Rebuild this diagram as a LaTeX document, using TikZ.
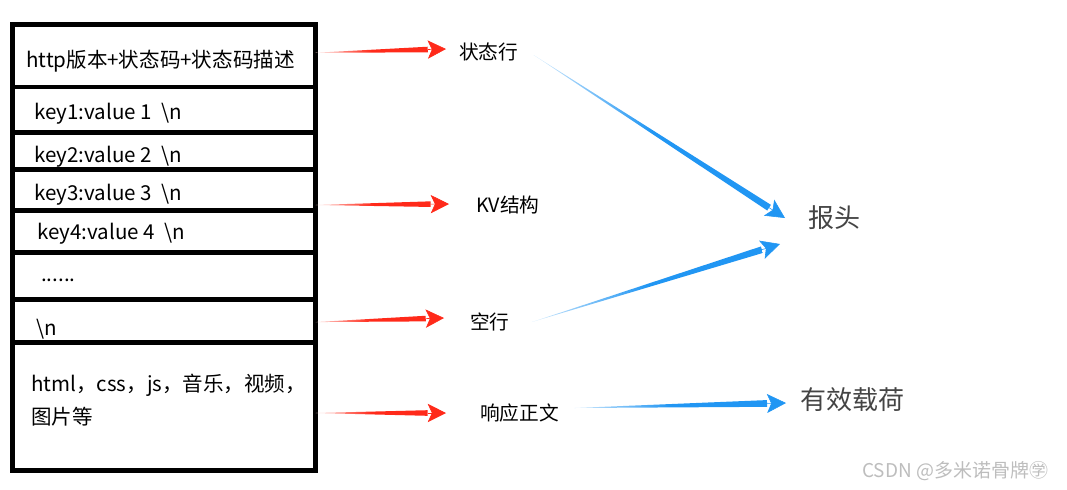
\documentclass[tikz,border=0pt]{standalone}
\usepackage{fontspec}
\setmainfont{Noto Sans CJK SC}
\usepackage{tikz}
\usetikzlibrary{positioning,arrows.meta,calc}
\definecolor{arrowred}{HTML}{FF2A1A}
\definecolor{arrowblue}{HTML}{2196F3}
\definecolor{labelgray}{HTML}{444444}
\definecolor{markgray}{HTML}{BDBDBD}
% tapered arrow: colour, half width at the head, head length, from, to
\newcommand{\flowarrow}[5]{%
  \coordinate (fa-s) at #4;
  \coordinate (fa-e) at #5;
  \coordinate (fa-b) at ($(fa-e)!#3!(fa-s)$);
  \shade[left color=#1!20, right color=#1, middle color=#1]
    (fa-s) -- ($(fa-b)!#2!90:(fa-s)$) -- ($(fa-b)!#2!-90:(fa-s)$) -- cycle;
  \draw[#1, line width=0.4pt, -{Stealth[length=#3, width=#3, inset=3pt]}] (fa-b) -- (fa-e);
}

\begin{document}
\begin{tikzpicture}[
    x=0.025cm, y=-0.025cm,
    node distance=0pt,
    row/.style={rectangle, draw, line width=3.5pt, minimum width=7.575cm,
                outer sep=0pt, inner sep=0pt},
    rowtext/.style={anchor=west, inner sep=0pt, font=\fontsize{14.6}{23.5}\selectfont},
    part/.style={anchor=west, inner sep=0pt, font=\fontsize{14}{16}\selectfont},
    whole/.style={anchor=west, inner sep=0pt, text=labelgray, font=\fontsize{18.5}{22}\selectfont}
]
\useasboundingbox (0,0) rectangle (1067,489);

% response rows
\node[row, minimum height=1.5625cm] (r1) at (164,55.75) {};
\node[row, minimum height=1.1375cm, below=of r1] (r2) {};
\node[row, minimum height=0.925cm, below=of r2] (r3) {};
\node[row, minimum height=1.025cm, below=of r3] (r4) {};
\node[row, minimum height=1.05cm, below=of r4] (r5) {};
\node[row, minimum height=1.1625cm, below=of r5] (r6) {};
\node[row, minimum height=1.075cm, below=of r6] (r7) {};
\node[row, minimum height=3.2cm, below=of r7] (r8) {};

\node[rowtext] (t1) at (26,61) {http版本+状态码+状态码描述};
\node[rowtext] (t2) at (34,114) {key1:value 1\ \ \textbackslash n};
\node[rowtext] (t3) at (34,156.5) {key2:value 2\ \ \textbackslash n};
\node[rowtext] (t4) at (34,195) {key3:value 3\ \ \textbackslash n};
\node[rowtext] (t5) at (37,233.5) {key4:value 4\ \ \textbackslash n};
\node[rowtext] (t6) at (41,280) {......};
\node[rowtext] (t7) at (36,329) {\textbackslash n};
\node[rowtext, align=left] (t8) at (31,400.5) {html，css，js，音乐，视频，\\图片等};

% parts
\node[part] (zt) at (459,52) {状态行};
\node[part] (kv) at (476,205) {KV结构};
\node[part] (kh) at (470,322) {空行};
\node[part] (xy) at (480,413) {响应正文};

\node[whole] (bt) at (808,218) {报头};
\node[whole] (yx) at (800,400) {有效载荷};

\node[anchor=west, inner sep=0pt, text=markgray, font=\fontsize{13.5}{15}\selectfont] (wm)
  at (862,471) {CSDN @多米诺骨牌㊫};

\flowarrow{arrowred}{2pt}{13pt}{($(r1.east)+(0,-3)$)}{($(zt.west)+(-13,-3)$)}
\flowarrow{arrowred}{2pt}{13pt}{(r4.east |- kv.west)}{($(kv.west)+(-27,-1)$)}
\flowarrow{arrowred}{2pt}{13pt}{($(r7.east)+(0,1.5)$)}{($(kh.west)+(-26,-4)$)}
\flowarrow{arrowred}{2pt}{13pt}{(r8.east |- xy.west)}{($(xy.west)+(-34,0)$)}

\flowarrow{arrowblue}{2.4pt}{13.5pt}{($(zt.east)+(15,3)$)}{($(bt.west)+(-23,0)$)}
\flowarrow{arrowblue}{2.4pt}{13.5pt}{($(kh.east)+(22,0)$)}{($(bt.west)+(-28,26)$)}
\flowarrow{arrowblue}{2.4pt}{13.5pt}{($(xy.east)+(15,-5)$)}{($(yx.west)+(-14,3)$)}
\end{tikzpicture}
\end{document}
